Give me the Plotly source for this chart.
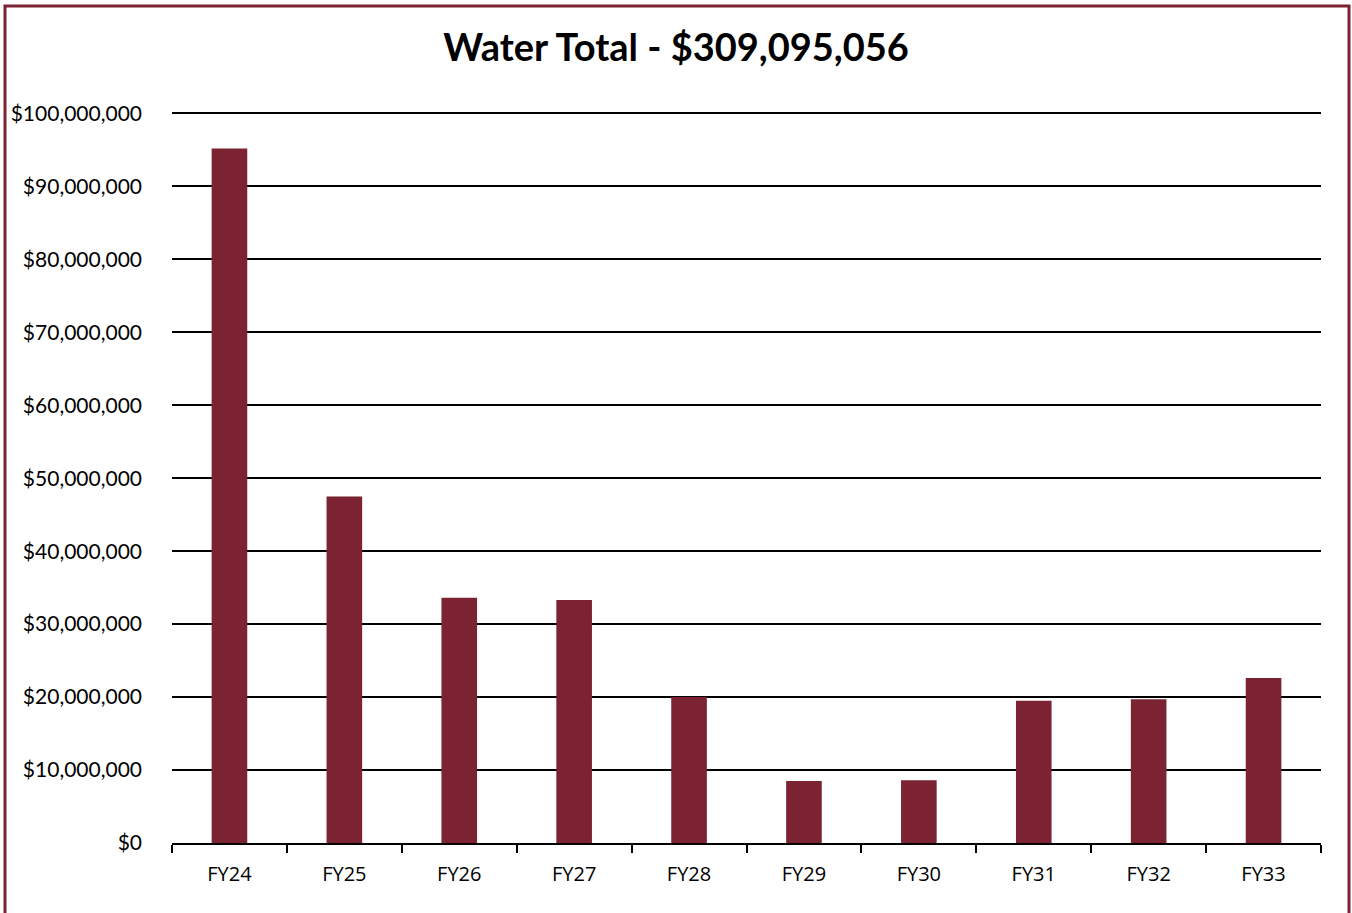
import plotly.graph_objects as go

years = ['FY24', 'FY25', 'FY26', 'FY27', 'FY28', 'FY29', 'FY30', 'FY31', 'FY32', 'FY33']
totals = [95200000, 47500000, 33600000, 33300000, 20000000,
          8500000, 8600000, 19500000, 19700000, 22600000]
y_ticks = [0, 10000000, 20000000, 30000000, 40000000, 50000000,
           60000000, 70000000, 80000000, 90000000, 100000000]

BAR_COLOR = '#7b2332'


def build_water_figure() -> go.Figure:
    figure = go.Figure(
        data=go.Bar(
            x=years,
            y=totals,
            marker={'color': BAR_COLOR, 'line': {'width': 0}},
        ),
    )
    figure.update_layout(
        width=1352,
        height=913,
        margin={'l': 172, 'r': 31, 't': 112, 'b': 70},
        paper_bgcolor='white',
        plot_bgcolor='white',
        bargap=0.69,
        showlegend=False,
        title={
            'text': '<b>Water Total - $309,095,056</b>',
            'x': 0.5,
            'xanchor': 'center',
            'y': 1 - 48 / 913,
            'yanchor': 'middle',
            'font': {'family': 'Lato, sans-serif', 'size': 38, 'color': 'black'},
        },
    )
    figure.update_yaxes(
        # a hair above 100M so plotly still draws the top gridline
        range=[0, 100200000],
        tickvals=y_ticks,
        ticktext=['${:,}'.format(v) for v in y_ticks],
        showgrid=True,
        gridcolor='black',
        gridwidth=1.5,
        zeroline=False,
        showline=False,
        ticks='',
        ticklabelstandoff=29,
        tickfont={'family': 'Lato, sans-serif', 'size': 21, 'color': 'black'},
    )
    figure.update_xaxes(
        showline=True,
        linecolor='black',
        linewidth=1.5,
        ticks='outside',
        tickson='boundaries',
        ticklen=8,
        tickwidth=1.5,
        tickcolor='black',
        showgrid=False,
        ticklabelstandoff=12,
        tickfont={'family': 'Open Sans, sans-serif', 'size': 20, 'color': 'black'},
    )
    # maroon frame round the whole chart, cut off at the bottom
    figure.add_shape(
        type='rect',
        xref='paper', yref='paper',
        x0=(5 - 172) / 1149, x1=(1349 - 172) / 1149,
        y0=-0.3, y1=(843 - 6) / 731,
        line={'color': BAR_COLOR, 'width': 3},
        fillcolor='rgba(0,0,0,0)',
        layer='below',
    )
    return figure


fig = build_water_figure()
fig.write_html(
    'out.html',
    config={'displayModeBar': False},
    post_script="document.body.style.margin='0';",
)
